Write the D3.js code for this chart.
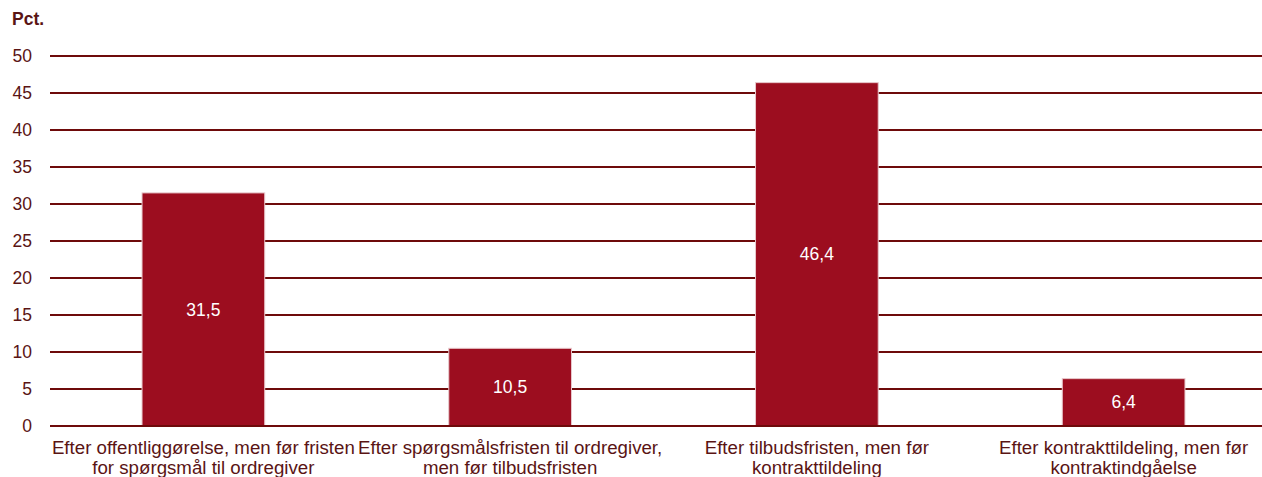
<!DOCTYPE html>
<html lang="da">
<head>
<meta charset="utf-8">
<title>Pct.</title>
<script src="https://d3js.org/d3.v7.min.js"></script>
<style>
  body { margin: 0; background: #fff; }
  text { font-family: "Liberation Sans", Arial, sans-serif; }
</style>
</head>
<body>
<div id="container"></div>
<script>
var categories = [
  ["Efter offentliggørelse, men før fristen", "for spørgsmål til ordregiver"],
  ["Efter spørgsmålsfristen til ordregiver,", "men før tilbudsfristen"],
  ["Efter tilbudsfristen, men før", "kontrakttildeling"],
  ["Efter kontrakttildeling, men før", "kontraktindgåelse"]
];
var values = [31.5, 10.5, 46.4, 6.4];
var valueLabels = ["31,5", "10,5", "46,4", "6,4"];
var yTicks = [0, 5, 10, 15, 20, 25, 30, 35, 40, 45, 50];

var w = 1262, h = 477;
var mLeft = 50, mRight = 1262, mTop = 56, mBottom = 426;
var textCol = "#5a1414", gridCol = "#6e0a0a", barCol = "#9c0d1f";
var fs = 17.5, catFs = 18.7;

var svg = d3.select("#container").append("svg")
  .attr("width", w).attr("height", h);

// category slots run a little past the right edge of the gridlines
var x = d3.scaleBand().domain(d3.range(values.length)).range([mLeft, 1277]).paddingInner(0.6).paddingOuter(0.3);
var y = d3.scaleLinear().domain([0, 50]).range([mBottom, mTop]);

// gridlines
svg.selectAll("line.grid")
  .data(yTicks)
  .enter().append("line")
  .attr("class", "grid")
  .attr("x1", mLeft).attr("x2", mRight)
  .attr("y1", d => y(d)).attr("y2", d => y(d))
  .attr("stroke", gridCol).attr("stroke-width", 2);

// tick labels
svg.selectAll("text.tick")
  .data(yTicks)
  .enter().append("text")
  .attr("class", "tick")
  .attr("x", 32).attr("y", d => y(d))
  .attr("dy", "0.35em")
  .attr("text-anchor", "end")
  .attr("font-size", fs)
  .attr("fill", textCol)
  .text(d => d);

svg.append("text")
  .attr("x", 12).attr("y", 25)
  .attr("font-size", fs).attr("font-weight", "bold")
  .attr("fill", textCol)
  .text("Pct.");

// bars
svg.selectAll("rect.bar")
  .data(values)
  .enter().append("rect")
  .attr("class", "bar")
  .attr("x", (d, i) => x(i))
  .attr("width", x.bandwidth())
  .attr("y", d => y(d))
  .attr("height", d => y(0) - y(d))
  .attr("fill", barCol)
  .attr("stroke", "#e8c8cc").attr("stroke-width", 1);

// value labels
svg.selectAll("text.val")
  .data(values)
  .enter().append("text")
  .attr("class", "val")
  .attr("x", (d, i) => x(i) + x.bandwidth() / 2)
  .attr("y", d => (y(d) + y(0)) / 2)
  .attr("dy", "0.35em")
  .attr("text-anchor", "middle")
  .attr("font-size", fs)
  .attr("fill", "#fff")
  .text((d, i) => valueLabels[i]);

// baseline
svg.append("line")
  .attr("x1", mLeft).attr("x2", mRight)
  .attr("y1", y(0)).attr("y2", y(0))
  .attr("stroke", gridCol).attr("stroke-width", 2);

// category labels
categories.forEach(function(lines, i) {
  var t = svg.append("text")
    .attr("text-anchor", "middle")
    .attr("font-size", catFs)
    .attr("fill", textCol);
  lines.forEach(function(line, j) {
    t.append("tspan")
      .attr("x", x(i) + x.bandwidth() / 2)
      .attr("y", 454 + j * 20)
      .text(line);
  });
});
</script>
</body>
</html>
